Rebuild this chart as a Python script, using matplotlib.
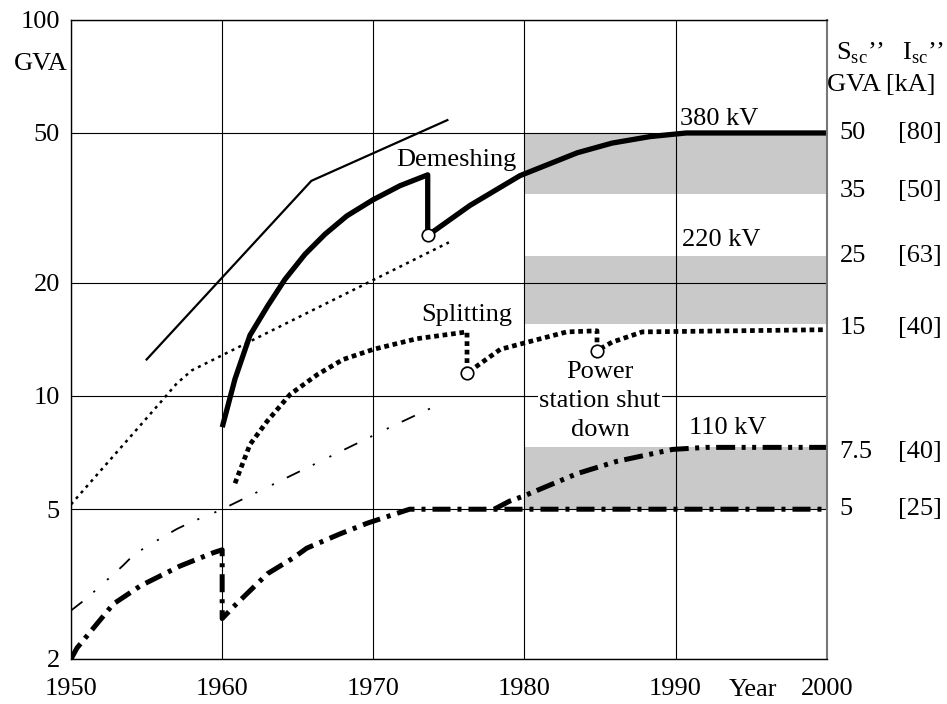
import matplotlib
matplotlib.use("Agg")
import matplotlib.pyplot as plt

plt.rcParams['font.family'] = ['Liberation Serif', 'DejaVu Serif']
plt.rcParams['mathtext.fontset'] = 'custom'
plt.rcParams['mathtext.rm'] = 'Liberation Serif'
plt.rcParams['font.size'] = 19

# thin reference curves
thin_solid_x = [1955, 1965.9, 1974.9]
thin_solid_y = [12.5, 37.3, 54.1]

thin_dot_x = [1950, 1956, 1957, 1958, 1975]
thin_dot_y = [5.15, 9.7, 10.8, 11.7, 25.6]

thin_dd_x = [1950, 1951.0, 1951.8, 1953.4, 1954.2, 1955.6, 1957.0, 1958.1, 1959.4, 1960, 1971.2, 1974.3]
thin_dd_y = [2.69, 2.89, 3.09, 3.53, 3.80, 4.11, 4.43, 4.65, 4.88, 5.0, 8.29, 9.48]

# 380 kV
kv380_x = [1960.05, 1960.85, 1961.84, 1963.03, 1964.15, 1965.48, 1966.8, 1968.25, 1969.97,
           1971.76, 1973.6, 1973.6, 1976.4, 1979.7, 1983.5, 1985.8, 1988.3, 1990.7, 2000]
kv380_y = [8.39, 11.1, 14.5, 17.4, 20.4, 23.8, 26.9, 30.1, 33.2,
           36.2, 38.7, 26.7, 32.1, 38.5, 44.3, 47.0, 48.9, 50, 50]

# 220 kV
kv220_x = [1960.85, 1961.84, 1962.96, 1964.5, 1966.3, 1968.0, 1970.0, 1972.9, 1976.2, 1976.2,
           1978.4, 1980.2, 1982.8, 1984.8, 1984.8, 1985.8, 1987.8, 2000]
kv220_y = [5.86, 7.43, 8.55, 10.1, 11.4, 12.5, 13.3, 14.2, 14.8, 11.5,
           13.3, 13.9, 14.8, 14.9, 13.2, 13.9, 14.8, 15]

# 110 kV, lower branch
kv110_x = [1950, 1950.4, 1952.8, 1954.6, 1957.2, 1959.4, 1960, 1960, 1960.7, 1963.0, 1964.7,
           1965.6, 1967.8, 1969.6, 1971.6, 1972.4, 2000]
kv110_y = [2.0, 2.14, 2.80, 3.13, 3.53, 3.83, 3.9, 2.56, 2.74, 3.37, 3.71,
           3.94, 4.30, 4.59, 4.88, 5.0, 5.0]

# 110 kV, upper branch
kv110b_x = [1978, 1979.0, 1979.9, 1983.5, 1986.1, 1989.8, 1992, 2000]
kv110b_y = [5.0, 5.25, 5.41, 6.22, 6.70, 7.21, 7.3, 7.3]

events_x = [1973.6, 1976.2, 1984.8]
events_y = [26.7, 11.5, 13.2]

bands = [(34.5, 50), (15.5, 23.6), (5.0, 7.3)]

ssc_labels = ['50', '35', '25', '15', '7.5', '5']
isc_labels = ['[80]', '[50]', '[63]', '[40]', '[40]', '[25]']
label_y = [50, 35, 23.5, 15.2, 7.1, 5.0]

fig = plt.figure(figsize=(9.47, 7.04), dpi=100)
ax = fig.add_axes([0.075, 0.064, 0.798, 0.908])
ax.set_yscale('log')
ax.set_xlim(1950, 2000)
ax.set_ylim(2, 100)

for lo, hi in bands:
    ax.fill_between([1980, 2000], lo, hi, color='#c9c9c9', lw=0, zorder=0.5)

ax.set_xticks([1950, 1960, 1970, 1980, 1990, 2000])
ax.set_xticklabels(['1950', '1960', '1970', '1980', '1990', '2000'])
ax.set_yticks([2, 5, 10, 20, 50, 100])
ax.set_yticklabels(['2', '5', '10', '20', '50', '100'])
ax.minorticks_off()
ax.tick_params(axis='x', length=0, pad=14)
ax.tick_params(axis='y', length=0, pad=8)
ax.grid(True, color='black', lw=0.8)
for s in ['left', 'bottom', 'top']:
    ax.spines[s].set_color('black')
    ax.spines[s].set_linewidth(1)
ax.spines['right'].set_color('#777777')
ax.spines['right'].set_linewidth(1.5)

ax.plot(thin_solid_x, thin_solid_y, color='black', lw=1.6, zorder=2)
ax.plot(thin_dot_x, thin_dot_y, color='black', lw=1.8, ls=(0, (1.2, 1.8)), zorder=2)
ax.plot(thin_dd_x, thin_dd_y, color='black', lw=1.3, ls=(0, (8, 8, 1.2, 9, 1.2, 8)), zorder=2)

ax.plot(kv380_x, kv380_y, color='black', lw=3.8, zorder=2)
ax.plot(kv220_x, kv220_y, color='black', lw=3.4, ls=(0, (1, 0.8)), zorder=2)
ax.plot(kv110_x, kv110_y, color='black', lw=3.6, ls=(0, (3.6, 1.4, 0.8, 1.4)), zorder=2)
ax.plot(kv110b_x, kv110b_y, color='black', lw=3.6, ls=(0, (3.8, 1.3, 0.8, 1.3, 0.8, 1.3)), zorder=2)

ax.plot(events_x, events_y, ls='none', marker='o', ms=9, mfc='white', mec='black', mew=1.2, zorder=3)

ax.text(1975.5, 42.4, 'Demeshing', ha='center', va='center')
ax.text(1976.2, 16.4, 'Splitting', ha='center', va='center')
ax.text(1985.0, 9.7, 'Power\nstation shut\ndown', ha='center', va='center', linespacing=1.4,
        bbox=dict(facecolor='white', edgecolor='none', pad=1))
ax.text(1992.9, 54.4, '380 kV', ha='center', va='center')
ax.text(1993.0, 25.9, '220 kV', ha='center', va='center')
ax.text(1993.45, 8.2, '110 kV', ha='center', va='center')

ax.text(-0.004, 0.93, 'GVA', ha='right', va='center', transform=ax.transAxes)
ax.text(1995.1, -0.048, 'Year', ha='center', va='center', transform=ax.get_xaxis_transform())

for s, i, y in zip(ssc_labels, isc_labels, label_y):
    ax.text(2000.85, y, s, ha='left', va='center')
    ax.text(2004.7, y, i, ha='left', va='center')

ax.text(2000.6, 81.5, "S$_{\\mathrm{sc}}$\u2019\u2019", ha='left', va='center')
ax.text(2005.0, 81.5, "I$_{\\mathrm{sc}}$\u2019\u2019", ha='left', va='center')
ax.text(2000.0, 67.2, 'GVA [kA]', ha='left', va='center')

fig.savefig('out.png', dpi=100)
